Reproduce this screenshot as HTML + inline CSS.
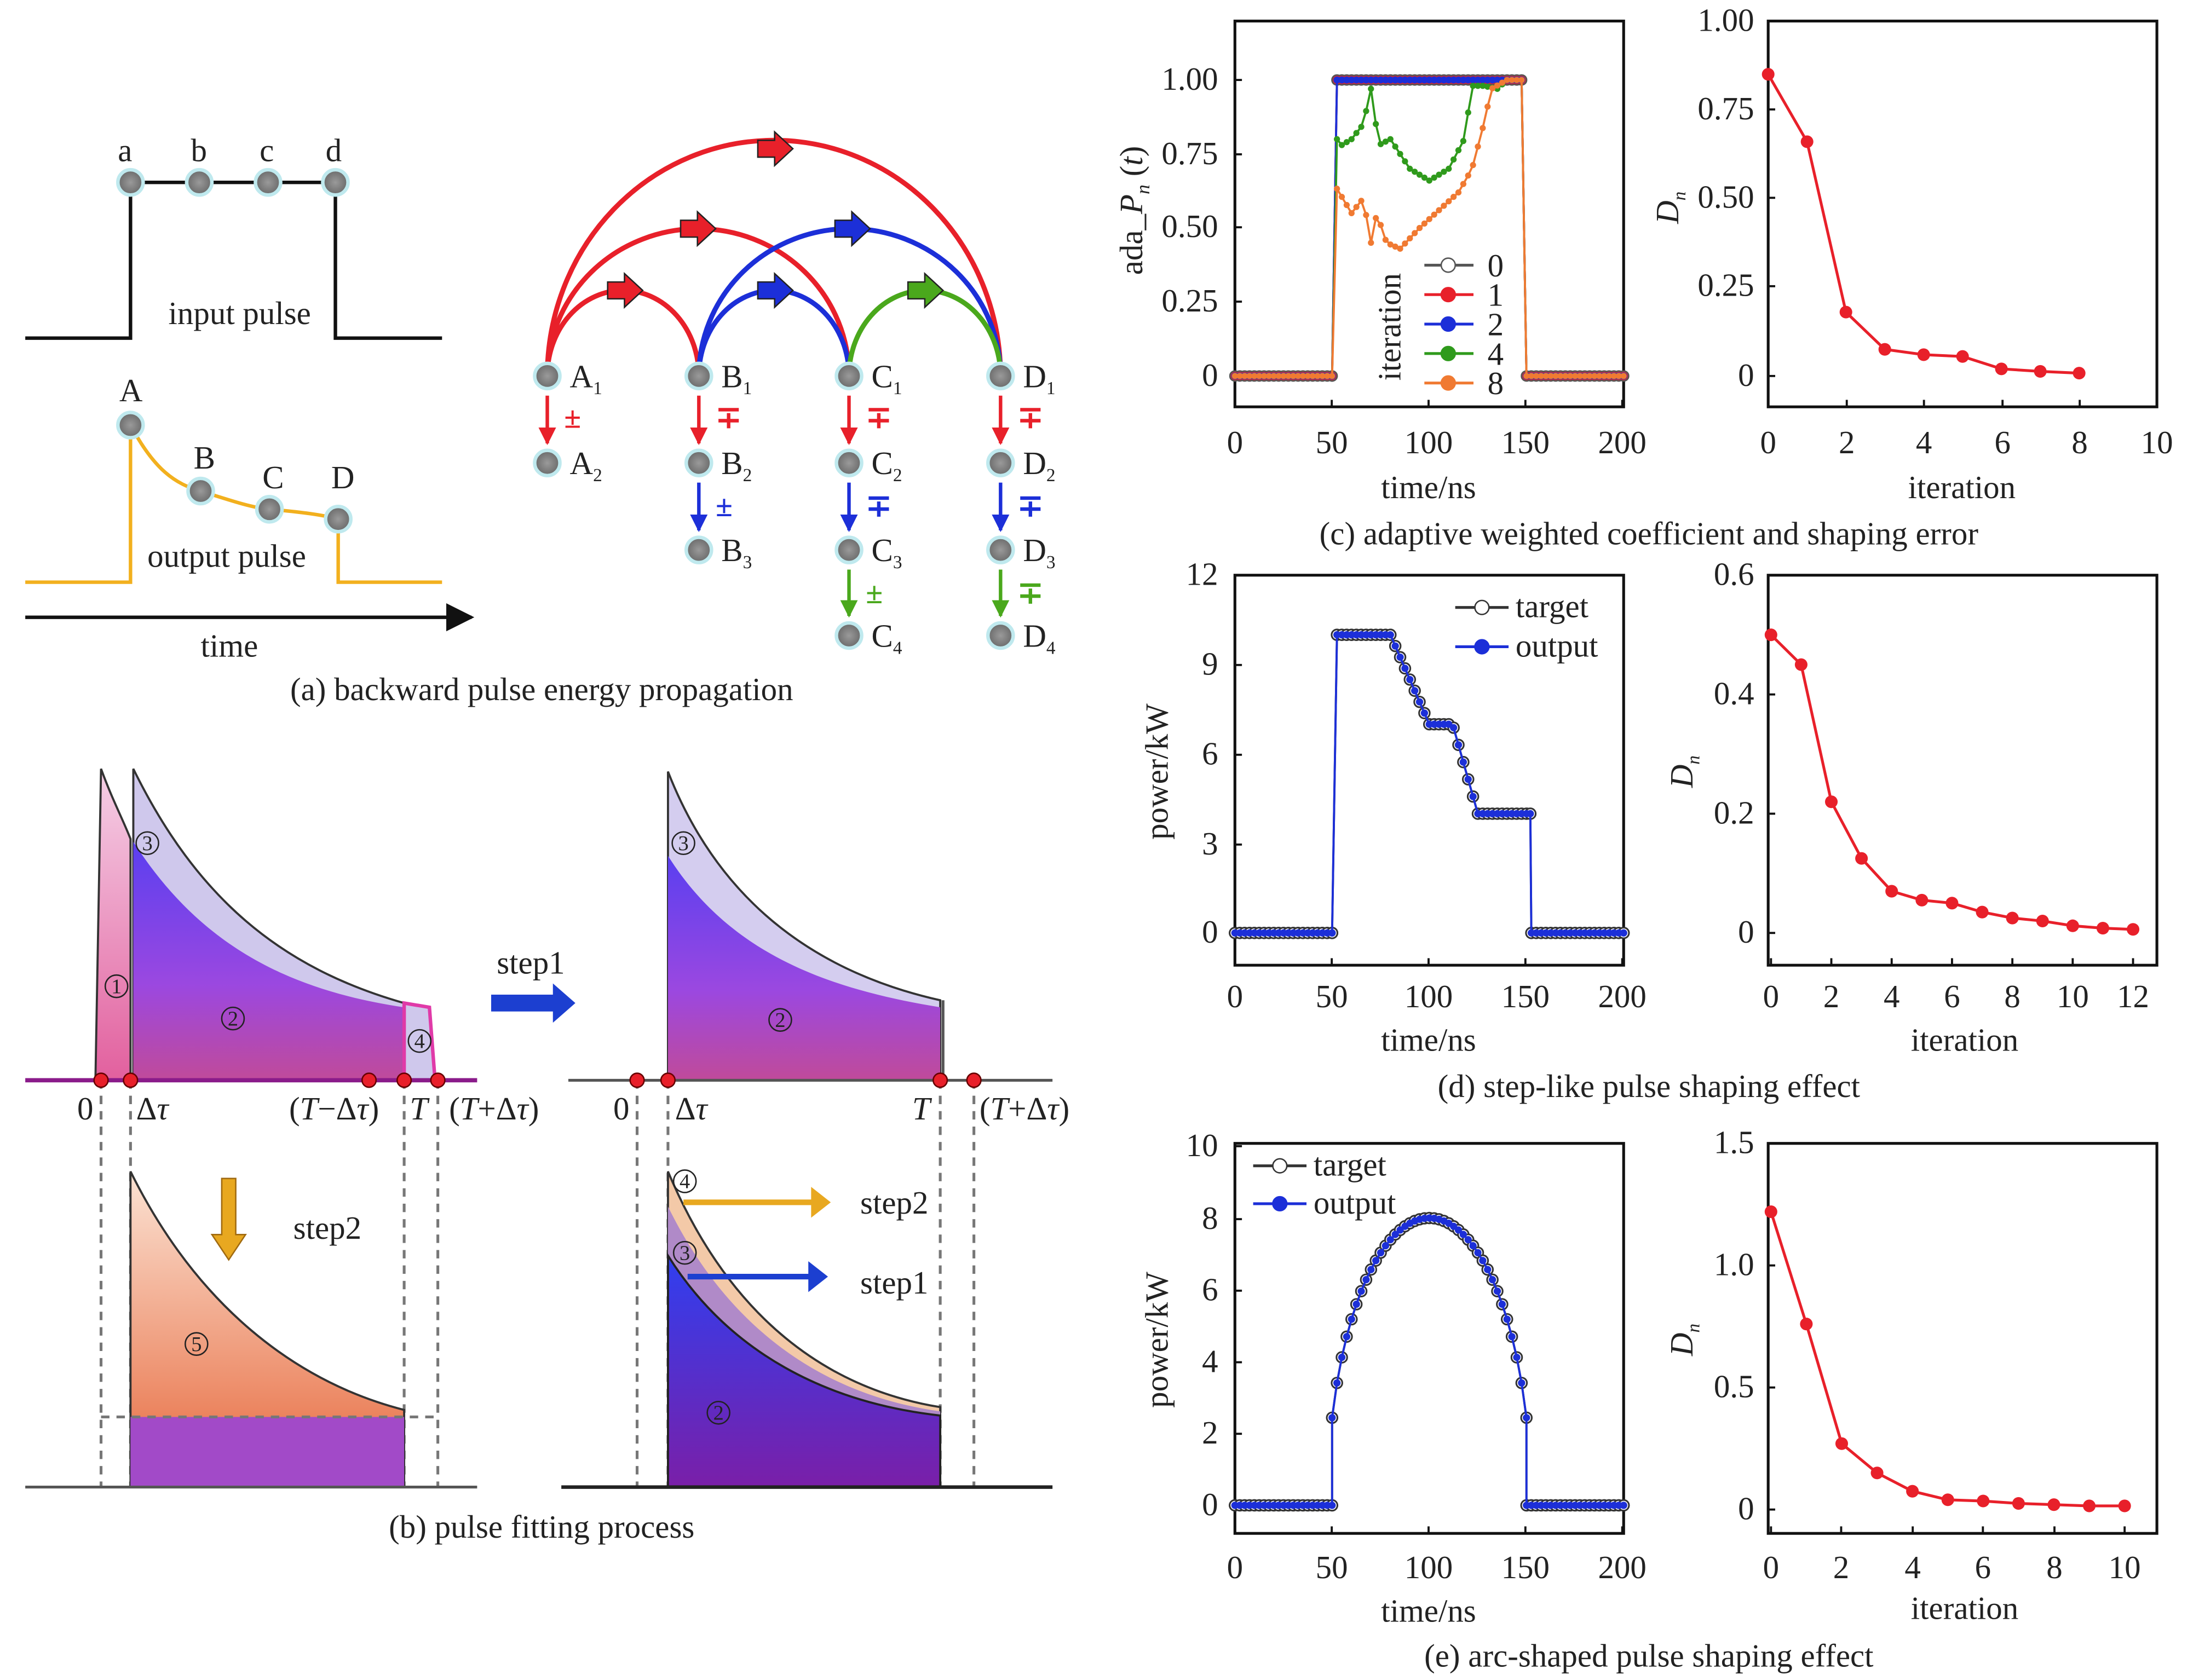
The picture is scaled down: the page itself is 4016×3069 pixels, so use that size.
<!DOCTYPE html>
<html><head><meta charset="utf-8"><style>
html,body{margin:0;padding:0;background:#fff}
svg{display:block}
text{font-family:"Liberation Serif",serif;fill:#222}
</style></head><body>
<svg id="s" width="4016" height="3069" viewBox="0 0 1567 1197.5" preserveAspectRatio="none" xmlns="http://www.w3.org/2000/svg">
<defs>
<marker id="ak" viewBox="0 0 10 10" refX="9" refY="5" markerWidth="8" markerHeight="8" orient="auto"><path d="M0,0L10,5L0,10z" fill="#111"/></marker>
<marker id="ar" viewBox="0 0 10 10" refX="9" refY="5" markerWidth="5" markerHeight="5" orient="auto"><path d="M0,0L10,5L0,10z" fill="#e8202a"/></marker>
<marker id="ab" viewBox="0 0 10 10" refX="9" refY="5" markerWidth="5" markerHeight="5" orient="auto"><path d="M0,0L10,5L0,10z" fill="#1c2fd8"/></marker>
<marker id="ag" viewBox="0 0 10 10" refX="9" refY="5" markerWidth="5" markerHeight="5" orient="auto"><path d="M0,0L10,5L0,10z" fill="#4aa81c"/></marker>
<linearGradient id="pur" x1="0" y1="0" x2="0" y2="1"><stop offset="0" stop-color="#5a3ff0"/><stop offset="0.6" stop-color="#9b48e0"/><stop offset="1" stop-color="#c04a9a"/></linearGradient>
<linearGradient id="pur2" x1="0" y1="0" x2="0" y2="1"><stop offset="0" stop-color="#2f3ff0"/><stop offset="1" stop-color="#7a1fa8"/></linearGradient>
<linearGradient id="pink" x1="0" y1="0" x2="0" y2="1"><stop offset="0" stop-color="#f5d0e6"/><stop offset="1" stop-color="#e2609e"/></linearGradient>
<linearGradient id="org" x1="0" y1="0" x2="0" y2="1"><stop offset="0" stop-color="#fbe3d4"/><stop offset="1" stop-color="#e7683c"/></linearGradient>
<radialGradient id="nd"><stop offset="0" stop-color="#9a9a9a"/><stop offset="1" stop-color="#6a6a6a"/></radialGradient>
</defs>

<!-- Panel (a) -->
<path d="M18,241H93V130H239V241H315" fill="none" stroke="#111" stroke-width="2.5"/>
<g font-size="23"><text x="84" y="115">a</text><text x="136" y="115">b</text><text x="185" y="115">c</text><text x="232" y="115">d</text>
<text x="120" y="231">input pulse</text></g>
<path d="M18,415H93V303C110,335 125,345 143,350C165,357 180,362 192,363C215,365 230,367 241,370V415H315" fill="none" stroke="#f2b01e" stroke-width="2.5"/>
<g font-size="23"><text x="85" y="286">A</text><text x="138" y="334">B</text><text x="187" y="348">C</text><text x="236" y="348">D</text>
<text x="105" y="404">output pulse</text><text x="143" y="468">time</text></g>
<line x1="18" y1="440" x2="336" y2="440" stroke="#111" stroke-width="2.5" marker-end="url(#ak)"/>
<g fill="url(#nd)" stroke="#bfe9ee" stroke-width="2.5">
<circle cx="93" cy="130" r="9"/><circle cx="142" cy="130" r="9"/><circle cx="191" cy="130" r="9"/><circle cx="239" cy="130" r="9"/>
<circle cx="93" cy="303" r="9"/><circle cx="143" cy="350" r="9"/><circle cx="192" cy="363" r="9"/><circle cx="241" cy="370" r="9"/>
</g>
<text x="386" y="499" font-size="23" text-anchor="middle">(a) backward pulse energy propagation</text>

<!-- arcs -->
<g fill="none" stroke-width="3.5">
<path d="M390,268A161.5,168 0 0 1 713,268" stroke="#e8202a"/>
<path d="M390,268A107.5,105 0 0 1 605,268" stroke="#e8202a"/>
<path d="M390,268A54,61 0 0 1 498,268" stroke="#e8202a"/>
<path d="M498,268A107.5,105 0 0 1 713,268" stroke="#1c2fd8"/>
<path d="M498,268A53.5,61 0 0 1 605,268" stroke="#1c2fd8"/>
<path d="M605,268A54,61 0 0 1 713,268" stroke="#4aa81c"/>
</g>
<g stroke="#222" stroke-width="1">
<path d="M540,100h12v-6l13,12l-13,12v-6h-12z" fill="#e8202a"/>
<path d="M485,157h12v-6l13,12l-13,12v-6h-12z" fill="#e8202a"/>
<path d="M433,201h12v-6l13,12l-13,12v-6h-12z" fill="#e8202a"/>
<path d="M595,157h12v-6l13,12l-13,12v-6h-12z" fill="#1c2fd8"/>
<path d="M540,201h12v-6l13,12l-13,12v-6h-12z" fill="#1c2fd8"/>
<path d="M647,201h12v-6l13,12l-13,12v-6h-12z" fill="#4aa81c"/>
</g>
<g stroke-width="2.5">
<line x1="390" y1="282" x2="390" y2="316" stroke="#e8202a" marker-end="url(#ar)"/>
<line x1="498" y1="282" x2="498" y2="316" stroke="#e8202a" marker-end="url(#ar)"/>
<line x1="605" y1="282" x2="605" y2="316" stroke="#e8202a" marker-end="url(#ar)"/>
<line x1="713" y1="282" x2="713" y2="316" stroke="#e8202a" marker-end="url(#ar)"/>
<line x1="498" y1="344" x2="498" y2="378" stroke="#1c2fd8" marker-end="url(#ab)"/>
<line x1="605" y1="344" x2="605" y2="378" stroke="#1c2fd8" marker-end="url(#ab)"/>
<line x1="713" y1="344" x2="713" y2="378" stroke="#1c2fd8" marker-end="url(#ab)"/>
<line x1="605" y1="406" x2="605" y2="439" stroke="#4aa81c" marker-end="url(#ag)"/>
<line x1="713" y1="406" x2="713" y2="439" stroke="#4aa81c" marker-end="url(#ag)"/>
</g>
<g font-size="22" font-weight="bold" font-family="Liberation Sans,sans-serif">
<text x="402" y="305" style="fill:#e8202a">±</text>
<text x="510" y="305" style="fill:#e8202a">∓</text>
<text x="617" y="305" style="fill:#e8202a">∓</text>
<text x="725" y="305" style="fill:#e8202a">∓</text>
<text x="510" y="368" style="fill:#1c2fd8">±</text>
<text x="617" y="368" style="fill:#1c2fd8">∓</text>
<text x="725" y="368" style="fill:#1c2fd8">∓</text>
<text x="617" y="430" style="fill:#4aa81c">±</text>
<text x="725" y="430" style="fill:#4aa81c">∓</text>
</g>
<g fill="url(#nd)" stroke="#bfe9ee" stroke-width="2.5">
<circle cx="390" cy="268" r="9"/><circle cx="498" cy="268" r="9"/><circle cx="605" cy="268" r="9"/><circle cx="713" cy="268" r="9"/>
<circle cx="390" cy="330" r="9"/><circle cx="498" cy="330" r="9"/><circle cx="605" cy="330" r="9"/><circle cx="713" cy="330" r="9"/>
<circle cx="498" cy="392" r="9"/><circle cx="605" cy="392" r="9"/><circle cx="713" cy="392" r="9"/>
<circle cx="605" cy="453" r="9"/><circle cx="713" cy="453" r="9"/>
</g>
<g font-size="23">
<text x="406" y="276">A<tspan font-size="13" dy="5">1</tspan></text>
<text x="514" y="276">B<tspan font-size="13" dy="5">1</tspan></text>
<text x="621" y="276">C<tspan font-size="13" dy="5">1</tspan></text>
<text x="729" y="276">D<tspan font-size="13" dy="5">1</tspan></text>
<text x="406" y="338">A<tspan font-size="13" dy="5">2</tspan></text>
<text x="514" y="338">B<tspan font-size="13" dy="5">2</tspan></text>
<text x="621" y="338">C<tspan font-size="13" dy="5">2</tspan></text>
<text x="729" y="338">D<tspan font-size="13" dy="5">2</tspan></text>
<text x="514" y="400">B<tspan font-size="13" dy="5">3</tspan></text>
<text x="621" y="400">C<tspan font-size="13" dy="5">3</tspan></text>
<text x="729" y="400">D<tspan font-size="13" dy="5">3</tspan></text>
<text x="621" y="461">C<tspan font-size="13" dy="5">4</tspan></text>
<text x="729" y="461">D<tspan font-size="13" dy="5">4</tspan></text>
</g>

<!-- Panel (b) -->
<g>
<path d="M68,770L72,548C80,570 88,585 93,598V770z" fill="url(#pink)" stroke="#333" stroke-width="1.5"/>
<path d="M95,770V548C140,640 200,690 288,715V770z" fill="#cfc8ec" stroke="#333" stroke-width="1.5"/>
<path d="M95,770V600C140,670 200,705 288,718V770z" fill="url(#pur)"/>
<path d="M288,770V715L306,718L310,770z" fill="#cfc8ec" stroke="#e03aa8" stroke-width="2.5"/>
<line x1="18" y1="770" x2="340" y2="770" stroke="#8a1b8a" stroke-width="3"/>
<path d="M476,770V550C515,650 590,695 670,713V770z" fill="#d4cdef" stroke="#333" stroke-width="1.5"/>
<path d="M476,770V610C520,680 590,705 670,718V770z" fill="url(#pur)"/>
<line x1="405" y1="770" x2="750" y2="770" stroke="#555" stroke-width="2"/>
<line x1="672" y1="713" x2="672" y2="770" stroke="#555" stroke-width="2"/>
<g stroke="#777" stroke-width="2" stroke-dasharray="6,5" fill="none">
<line x1="72" y1="770" x2="72" y2="1060"/><line x1="93" y1="770" x2="93" y2="1060"/>
<line x1="288" y1="770" x2="288" y2="1060"/><line x1="312" y1="770" x2="312" y2="1060"/>
<line x1="454" y1="770" x2="454" y2="1060"/><line x1="476" y1="770" x2="476" y2="1060"/>
<line x1="670" y1="770" x2="670" y2="1060"/><line x1="694" y1="770" x2="694" y2="1060"/>
</g>
<g fill="#e8202a" stroke="#600" stroke-width="1">
<circle cx="72" cy="770" r="5"/><circle cx="93" cy="770" r="5"/><circle cx="263" cy="770" r="5"/><circle cx="288" cy="770" r="5"/><circle cx="312" cy="770" r="5"/>
<circle cx="454" cy="770" r="5"/><circle cx="476" cy="770" r="5"/><circle cx="670" cy="770" r="5"/><circle cx="694" cy="770" r="5"/>
</g>
<g font-size="23">
<text x="55" y="798">0</text><text x="97" y="798"><tspan>Δ</tspan><tspan font-style="italic">τ</tspan></text>
<text x="206" y="798">(<tspan font-style="italic">T</tspan>−Δ<tspan font-style="italic">τ</tspan>)</text>
<text x="292" y="798" font-style="italic">T</text>
<text x="320" y="798">(<tspan font-style="italic">T</tspan>+Δ<tspan font-style="italic">τ</tspan>)</text>
<text x="437" y="798">0</text><text x="481" y="798">Δ<tspan font-style="italic">τ</tspan></text>
<text x="650" y="798" font-style="italic">T</text>
<text x="698" y="798">(<tspan font-style="italic">T</tspan>+Δ<tspan font-style="italic">τ</tspan>)</text>
<text x="354" y="694">step1</text>
<text x="209" y="883">step2</text>
<text x="613" y="865">step2</text>
<text x="613" y="922">step1</text>
</g>
<path d="M350,709h44v-8l16,14l-16,14v-8h-44z" fill="#1c3fd0"/>
<path d="M93,1060V835C140,930 210,985 288,1005V1060z" fill="url(#org)" stroke="#333" stroke-width="1.5"/>
<rect x="93" y="1010" width="195" height="50" fill="#a24ac8"/>
<path d="M72,1010H312" stroke="#777" stroke-width="2" stroke-dasharray="6,5"/>
<line x1="18" y1="1060" x2="340" y2="1060" stroke="#555" stroke-width="2"/>
<path d="M158,840h10v40h7l-12,18l-12,-18h7z" fill="#e8a820" stroke="#a06a10"/>
<path d="M476,1060V835C520,940 590,990 670,1003V1060z" fill="#f3c9a8" stroke="#333" stroke-width="1.5"/>
<path d="M476,1060V860C520,950 590,995 670,1006V1060z" fill="#b08ac8"/>
<path d="M476,1060V895C520,965 590,1000 670,1009V1060z" fill="url(#pur2)" stroke="#222" stroke-width="1.5"/>
<line x1="400" y1="1060" x2="750" y2="1060" stroke="#222" stroke-width="2.5"/>
<line x1="487" y1="857" x2="580" y2="857" stroke="#e8a820" stroke-width="4"/><path d="M578,846l14,11l-14,11z" fill="#e8a820"/>
<line x1="490" y1="910" x2="578" y2="910" stroke="#1c3fd0" stroke-width="4"/><path d="M576,899l14,11l-14,11z" fill="#1c3fd0"/>
<g font-size="15" font-family="Liberation Sans,sans-serif" text-anchor="middle">
<circle cx="83" cy="703" r="8" fill="none" stroke="#222"/><text x="83" y="708">1</text>
<circle cx="105" cy="601" r="8" fill="none" stroke="#222"/><text x="105" y="606">3</text>
<circle cx="166" cy="726" r="8" fill="none" stroke="#222"/><text x="166" y="731">2</text>
<circle cx="299" cy="742" r="8" fill="none" stroke="#222"/><text x="299" y="747">4</text>
<circle cx="140" cy="958" r="8" fill="none" stroke="#222"/><text x="140" y="963">5</text>
<circle cx="487" cy="601" r="8" fill="none" stroke="#222"/><text x="487" y="606">3</text>
<circle cx="556" cy="727" r="8" fill="none" stroke="#222"/><text x="556" y="732">2</text>
<circle cx="488" cy="842" r="8" fill="none" stroke="#222"/><text x="488" y="847">4</text>
<circle cx="488" cy="893" r="8" fill="none" stroke="#222"/><text x="488" y="898">3</text>
<circle cx="512" cy="1007" r="8" fill="none" stroke="#222"/><text x="512" y="1012">2</text>
</g>
</g>
<text x="386" y="1096" font-size="23" text-anchor="middle">(b) pulse fitting process</text>

<!-- Panels c,d,e frames -->
<g fill="none" stroke="#111" stroke-width="2">
<rect x="880" y="15" width="277" height="275"/><rect x="1260" y="15" width="277" height="275"/>
<rect x="880" y="410" width="277" height="278"/><rect x="1260" y="410" width="277" height="278"/>
<rect x="880" y="815" width="277" height="278"/><rect x="1260" y="815" width="277" height="278"/>
</g>
<g id="plots"></g>
<g font-size="23" text-anchor="middle">
<text x="880" y="323">0</text><text x="949" y="323">50</text><text x="1018" y="323">100</text><text x="1087" y="323">150</text><text x="1156" y="323">200</text>
<text x="1018" y="355">time/ns</text>
<g text-anchor="end"><text x="868" y="64">1.00</text><text x="868" y="117">0.75</text><text x="868" y="169">0.50</text><text x="868" y="222">0.25</text><text x="868" y="275">0</text></g>
<text transform="translate(814,150) rotate(-90)">ada_<tspan font-style="italic">P</tspan><tspan font-style="italic" font-size="14" dy="5">n</tspan><tspan dy="-5"> (</tspan><tspan font-style="italic">t</tspan>)</text>
<text transform="translate(998,233) rotate(-90)">iteration</text>
<g text-anchor="start"><text x="1060" y="197">0</text><text x="1060" y="218">1</text><text x="1060" y="239">2</text><text x="1060" y="260">4</text><text x="1060" y="281">8</text></g>
<text x="1260" y="323">0</text><text x="1316" y="323">2</text><text x="1371" y="323">4</text><text x="1427" y="323">6</text><text x="1482" y="323">8</text><text x="1537" y="323">10</text>
<text x="1398" y="355">iteration</text>
<g text-anchor="end"><text x="1250" y="22">1.00</text><text x="1250" y="85">0.75</text><text x="1250" y="148">0.50</text><text x="1250" y="211">0.25</text><text x="1250" y="275">0</text></g>
<text transform="translate(1196,148) rotate(-90)" font-style="italic">D<tspan font-size="13" dy="5">n</tspan></text>
<text x="1175" y="388">(c) adaptive weighted coefficient and shaping error</text>
<text x="880" y="718">0</text><text x="949" y="718">50</text><text x="1018" y="718">100</text><text x="1087" y="718">150</text><text x="1156" y="718">200</text>
<text x="1018" y="749">time/ns</text>
<g text-anchor="end"><text x="868" y="417">12</text><text x="868" y="481">9</text><text x="868" y="545">6</text><text x="868" y="609">3</text><text x="868" y="672">0</text></g>
<text transform="translate(832,550) rotate(-90)">power/kW</text>
<g text-anchor="start"><text x="1080" y="440">target</text><text x="1080" y="468">output</text></g>
<text x="1262" y="718">0</text><text x="1305" y="718">2</text><text x="1348" y="718">4</text><text x="1391" y="718">6</text><text x="1434" y="718">8</text><text x="1477" y="718">10</text><text x="1520" y="718">12</text>
<text x="1400" y="749">iteration</text>
<g text-anchor="end"><text x="1250" y="417">0.6</text><text x="1250" y="502">0.4</text><text x="1250" y="587">0.2</text><text x="1250" y="672">0</text></g>
<text transform="translate(1206,550) rotate(-90)" font-style="italic">D<tspan font-size="13" dy="5">n</tspan></text>
<text x="1175" y="782">(d) step-like pulse shaping effect</text>
<text x="880" y="1125">0</text><text x="949" y="1125">50</text><text x="1018" y="1125">100</text><text x="1087" y="1125">150</text><text x="1156" y="1125">200</text>
<text x="1018" y="1156">time/ns</text>
<g text-anchor="end"><text x="868" y="824">10</text><text x="868" y="876">8</text><text x="868" y="927">6</text><text x="868" y="978">4</text><text x="868" y="1029">2</text><text x="868" y="1080">0</text></g>
<text transform="translate(832,955) rotate(-90)">power/kW</text>
<g text-anchor="start"><text x="936" y="838">target</text><text x="936" y="865">output</text></g>
<text x="1262" y="1125">0</text><text x="1312" y="1125">2</text><text x="1363" y="1125">4</text><text x="1413" y="1125">6</text><text x="1464" y="1125">8</text><text x="1514" y="1125">10</text>
<text x="1400" y="1154">iteration</text>
<g text-anchor="end"><text x="1250" y="822">1.5</text><text x="1250" y="909">1.0</text><text x="1250" y="996">0.5</text><text x="1250" y="1083">0</text></g>
<text transform="translate(1206,955) rotate(-90)" font-style="italic">D<tspan font-size="13" dy="5">n</tspan></text>
<text x="1175" y="1188">(e) arc-shaped pulse shaping effect</text>
</g>
</svg>
<script>
(function(){
var g=document.getElementById('plots'),NS='http://www.w3.org/2000/svg';
function el(n,a){var e=document.createElementNS(NS,n);for(var k in a)e.setAttribute(k,a[k]);g.appendChild(e);return e;}
function series(pts,col,r,fill,sw){el('polyline',{points:pts.map(function(p){return p[0]+','+p[1]}).join(' '),fill:'none',stroke:col,'stroke-width':sw||2});
 pts.forEach(function(p){el('circle',{cx:p[0],cy:p[1],r:r,fill:fill||col,stroke:fill?col:'none','stroke-width':1.2});});}
function tx(t){return 880+t*1.385;}
function ticks(xs,y0,ys,x0){xs.forEach(function(x){el('line',{x1:x,y1:y0,x2:x,y2:y0-5,stroke:'#111','stroke-width':1.5})});
 ys.forEach(function(y){el('line',{x1:x0,y1:y,x2:x0+5,y2:y,stroke:'#111','stroke-width':1.5})});}
ticks([880,949,1018,1087,1156],290,[57,110,162,215,268],880);
ticks([1260,1316,1371,1427,1482,1537],290,[15,78,141,204,268],1260);
ticks([880,949,1018,1087,1156],688,[410,474,538,602,665],880);
ticks([1262,1305,1348,1391,1434,1477,1520],688,[410,495,580,665],1260);
ticks([880,949,1018,1087,1156],1093,[817,869,920,971,1022,1073],880);
ticks([1262,1312,1363,1413,1464,1514],1093,[815,902,989,1076],1260);
function cy(v){return 268-v*211;}
function sq(t){return (t>50&&t<150)?1:0;}
function interp(k,t){for(var i=0;i<k.length-1;i++)if(t>=k[i][0]&&t<=k[i+1][0])return k[i][1]+(k[i+1][1]-k[i][1])*(t-k[i][0])/(k[i+1][0]-k[i][0]);return 1;}
var s8=function(t){if(t<=50||t>=150)return 0;if(t>=140)return 1;
 return interp([[50,0.66],[60,0.55],[66,0.6],[70,0.45],[73,0.55],[78,0.45],[85,0.43],[95,0.5],[105,0.56],[115,0.62],[122,0.7],[128,0.85],[132,0.97],[140,1]],t);};
var s4=function(t){if(t<=50||t>=150)return 0;
 return interp([[50,0.82],[55,0.78],[60,0.8],[66,0.85],[70,0.97],[74,0.78],[80,0.8],[90,0.7],[100,0.66],[110,0.7],[118,0.8],[122,0.98],[128,0.98],[135,0.97],[140,1],[150,1]],t);};
function stepPts(f){var a=[];for(var t=0;t<=200;t+=2.5){a.push([tx(t),cy(f(t))]);}return a;}
var a=[];for(var t=0;t<=200;t+=2.5){if(t==50){a.push([tx(50),cy(0)]);}a.push([tx(t),cy(sq(t))]);}
series(a,'#555',3.5,'#fff',1.5);
series(a,'#e8202a',3,null,1.5);
series(a,'#1c2fd8',2.5,null,1.5);
series(stepPts(s4),'#2f9a1c',2.2,null,1.5);
series(stepPts(s8),'#f07a32',2.2,null,1.5);
[['#555','#fff'],['#e8202a'],['#1c2fd8'],['#2f9a1c'],['#f07a32']].forEach(function(c,i){var y=189+i*21;
 el('line',{x1:1015,y1:y,x2:1050,y2:y,stroke:c[0],'stroke-width':2});el('circle',{cx:1032,cy:y,r:5,fill:c[1]||c[0],stroke:c[0]});});
function dn(vals,xs,y0,sc){return vals.map(function(v,i){return [xs[i],y0-v*sc];});}
var xc=[];for(var i=0;i<=8;i++)xc.push(1260+i*27.7);
series(dn([0.85,0.66,0.18,0.075,0.06,0.055,0.02,0.013,0.008],xc,268,253),'#e8202a',4.5,null,2);
var xd=[];for(i=0;i<=12;i++)xd.push(1262+i*21.5);
series(dn([0.5,0.45,0.22,0.125,0.07,0.055,0.05,0.035,0.025,0.02,0.012,0.008,0.006],xd,665,425),'#e8202a',4.5,null,2);
var xe=[];for(i=0;i<=10;i++)xe.push(1262+i*25.2);
series(dn([1.22,0.76,0.27,0.15,0.075,0.04,0.035,0.025,0.02,0.015,0.015],xe,1076,174),'#e8202a',4.5,null,2);
function dy(v){return 665-v*21.25;}
function stepF(t){if(t<=50||t>=152)return 0;if(t<80)return 10;if(t<100){return 10-3*(t-80)/20;}if(t<112)return 7;if(t<125)return 7-3*(t-112)/13;return 4;}
var dp=[];for(t=0;t<=200;t+=2.5){if(t==50)dp.push([tx(50),dy(0)]);dp.push([tx(t),dy(stepF(t))]);if(t==150)dp.push([tx(152),dy(4)]);}
series(dp,'#333',3.8,'#fff',1.5);series(dp,'#1c2fd8',2.6,null,1.5);
function ey(v){return 1073-v*25.6;}
function arc(t){if(t<50||t>150)return 0;return 8*Math.sqrt(Math.max(0,1-Math.pow((t-100)/52.5,2)));}
var ep=[];for(t=0;t<=200;t+=2.5){if(t==50)ep.push([tx(50),ey(0)]);ep.push([tx(t),ey(arc(t))]);if(t==150)ep.push([tx(150),ey(0)]);}
series(ep,'#333',3.8,'#fff',1.5);series(ep,'#1c2fd8',2.6,null,1.5);
[[433,'#333','#fff'],[461,'#1c2fd8']].forEach(function(c){el('line',{x1:1037,y1:c[0],x2:1075,y2:c[0],stroke:c[1],'stroke-width':2});el('circle',{cx:1056,cy:c[0],r:5,fill:c[2]||c[1],stroke:c[1]});});
[[831,'#333','#fff'],[858,'#1c2fd8']].forEach(function(c){el('line',{x1:893,y1:c[0],x2:931,y2:c[0],stroke:c[1],'stroke-width':2});el('circle',{cx:912,cy:c[0],r:5,fill:c[2]||c[1],stroke:c[1]});});
})();
</script>
</body></html>
